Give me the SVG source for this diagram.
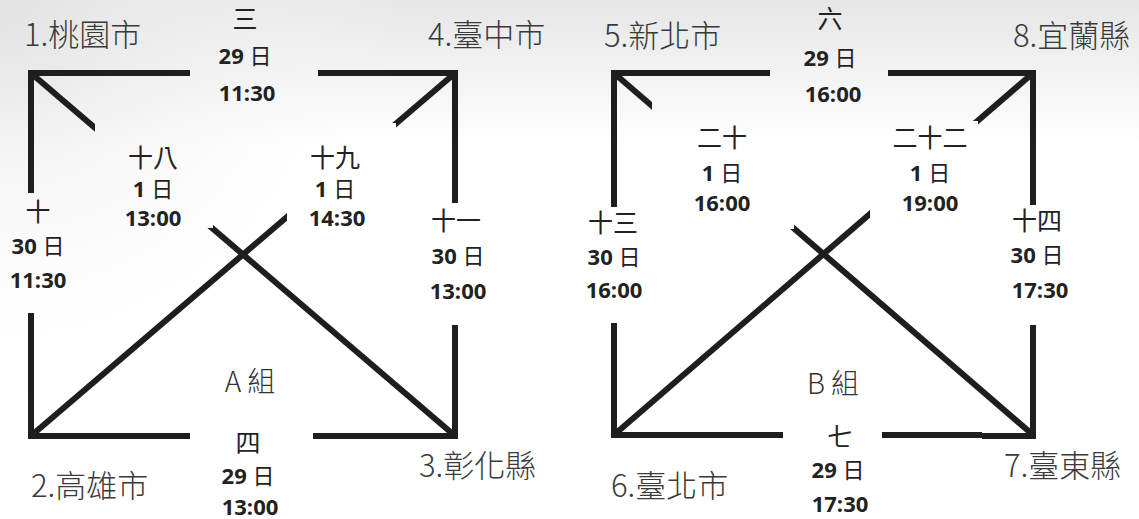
<svg xmlns="http://www.w3.org/2000/svg" width="1139" height="519" viewBox="0 0 1139 519">
<defs>
<linearGradient id="bgv" x1="0" y1="0" x2="0" y2="519" gradientUnits="userSpaceOnUse">
<stop offset="0" stop-color="#e6e6e6"/>
<stop offset="0.28" stop-color="#ffffff"/>
<stop offset="1" stop-color="#ffffff"/>
</linearGradient>
<radialGradient id="bgr" cx="0" cy="0" r="420" gradientUnits="userSpaceOnUse">
<stop offset="0" stop-color="#e2e2e2" stop-opacity="0.9"/>
<stop offset="1" stop-color="#ffffff" stop-opacity="0"/>
</radialGradient>
<mask id="gaps" maskUnits="userSpaceOnUse" x="0" y="0" width="1139" height="519">
<rect x="0" y="0" width="1139" height="519" fill="#fff"/>
<rect x="95" y="100" width="118" height="128" fill="#000"/>
<rect x="287" y="123" width="109" height="100" fill="#000"/>
<rect x="652" y="95" width="142" height="134" fill="#000"/>
<rect x="870" y="121" width="108" height="100" fill="#000"/>
</mask>
<style>
.ln{stroke:#1f1d1e;stroke-width:6;fill:none;stroke-linecap:butt;stroke-linejoin:miter}
.city{font-family:"Noto Sans CJK TC","Noto Sans CJK SC",sans-serif;font-weight:300;font-size:31px;fill:#3a3a3a}
.num{font-family:"Noto Sans CJK TC","Noto Sans CJK SC",sans-serif;font-weight:400;font-size:25px;fill:#222}
.t{font-family:"Open Sans","Liberation Sans",sans-serif;font-weight:700;font-size:22px;fill:#222;text-anchor:middle}
.d{font-family:"Noto Sans CJK TC","Noto Sans CJK SC",sans-serif;font-weight:400}
.grp{font-family:"Noto Sans CJK TC","Noto Sans CJK SC",sans-serif;font-weight:300;font-size:28px;fill:#333;text-anchor:middle}
.c{text-anchor:middle}
</style>
</defs>
<rect x="0" y="0" width="1139" height="519" fill="url(#bgv)"/>
<rect x="0" y="0" width="1139" height="519" fill="url(#bgr)"/>

<g id="connectors">
<path class="ln" d="M28 73 H190 M318 73 H458"/>
<path class="ln" d="M31 70 V193 M31 313 V439"/>
<path class="ln" d="M28 436 H190 M313 436 H458"/>
<path class="ln" d="M455 70 V203 M455 325 V439"/>
<g mask="url(#gaps)">
<path class="ln" d="M32 74 L454 435"/>
<path class="ln" d="M454 74 L32 435"/>
<path class="ln" d="M615 74 L1032 434"/>
<path class="ln" d="M1032 74 L615 434"/>
</g>
<path class="ln" d="M611 73 H770 M888 73 H1036"/>
<path class="ln" d="M614 70 V207 M614 323 V438"/>
<path class="ln" d="M611 435 H783 M882 435 H982"/>
<path class="ln" d="M982 436 H1036"/>
<path class="ln" d="M1033 70 V205 M1033 325 V438"/>
</g>

<g id="labels-A">
<text class="num c" x="245" y="28">三</text>
<text class="t" x="245" y="64">29 <tspan class="d" font-weight="400">日</tspan></text>
<text class="t" x="247" y="101">11:30</text>
<text class="num c" x="153" y="167">十八</text>
<text class="t" x="153" y="197">1 <tspan class="d" font-weight="400">日</tspan></text>
<text class="t" x="153" y="226">13:00</text>
<text class="num c" x="335" y="167">十九</text>
<text class="t" x="335" y="197">1 <tspan class="d" font-weight="400">日</tspan></text>
<text class="t" x="337" y="226">14:30</text>
<text class="num c" x="38" y="221">十</text>
<text class="t" x="38" y="254">30 <tspan class="d" font-weight="400">日</tspan></text>
<text class="t" x="38" y="288">11:30</text>
<text class="num c" x="456" y="230">十一</text>
<text class="t" x="458" y="264">30 <tspan class="d" font-weight="400">日</tspan></text>
<text class="t" x="458" y="299">13:00</text>
<text class="grp" x="250" y="392">A 組</text>
<text class="num c" x="248" y="452">四</text>
<text class="t" x="248" y="484">29 <tspan class="d" font-weight="400">日</tspan></text>
<text class="t" x="250" y="515">13:00</text>
</g>

<g id="labels-B">
<text class="num c" x="830" y="28">六</text>
<text class="t" x="830" y="66">29 <tspan class="d" font-weight="400">日</tspan></text>
<text class="t" x="833" y="102">16:00</text>
<text class="num c" x="722" y="147">二十</text>
<text class="t" x="722" y="181">1 <tspan class="d" font-weight="400">日</tspan></text>
<text class="t" x="722" y="211">16:00</text>
<text class="num c" x="930" y="147">二十二</text>
<text class="t" x="930" y="181">1 <tspan class="d" font-weight="400">日</tspan></text>
<text class="t" x="930" y="211">19:00</text>
<text class="num c" x="613" y="232">十三</text>
<text class="t" x="614" y="265">30 <tspan class="d" font-weight="400">日</tspan></text>
<text class="t" x="614" y="298">16:00</text>
<text class="num c" x="1037" y="230">十四</text>
<text class="t" x="1037" y="263">30 <tspan class="d" font-weight="400">日</tspan></text>
<text class="t" x="1040" y="298">17:30</text>
<text class="grp" x="833" y="394">B 組</text>
<text class="num c" x="840" y="446">七</text>
<text class="t" x="838" y="478">29 <tspan class="d" font-weight="400">日</tspan></text>
<text class="t" x="840" y="512">17:30</text>
</g>

<g id="node-1"><text class="city" x="24" y="46">1.桃園市</text></g>
<g id="node-4"><text class="city" x="428" y="46">4.臺中市</text></g>
<g id="node-2"><text class="city" x="31" y="497">2.高雄市</text></g>
<g id="node-3"><text class="city" x="419" y="477">3.彰化縣</text></g>
<g id="node-5"><text class="city" x="604" y="47">5.新北市</text></g>
<g id="node-8"><text class="city" x="1013" y="47">8.宜蘭縣</text></g>
<g id="node-6"><text class="city" x="611" y="497">6.臺北市</text></g>
<g id="node-7"><text class="city" x="1004" y="477">7.臺東縣</text></g>
</svg>
